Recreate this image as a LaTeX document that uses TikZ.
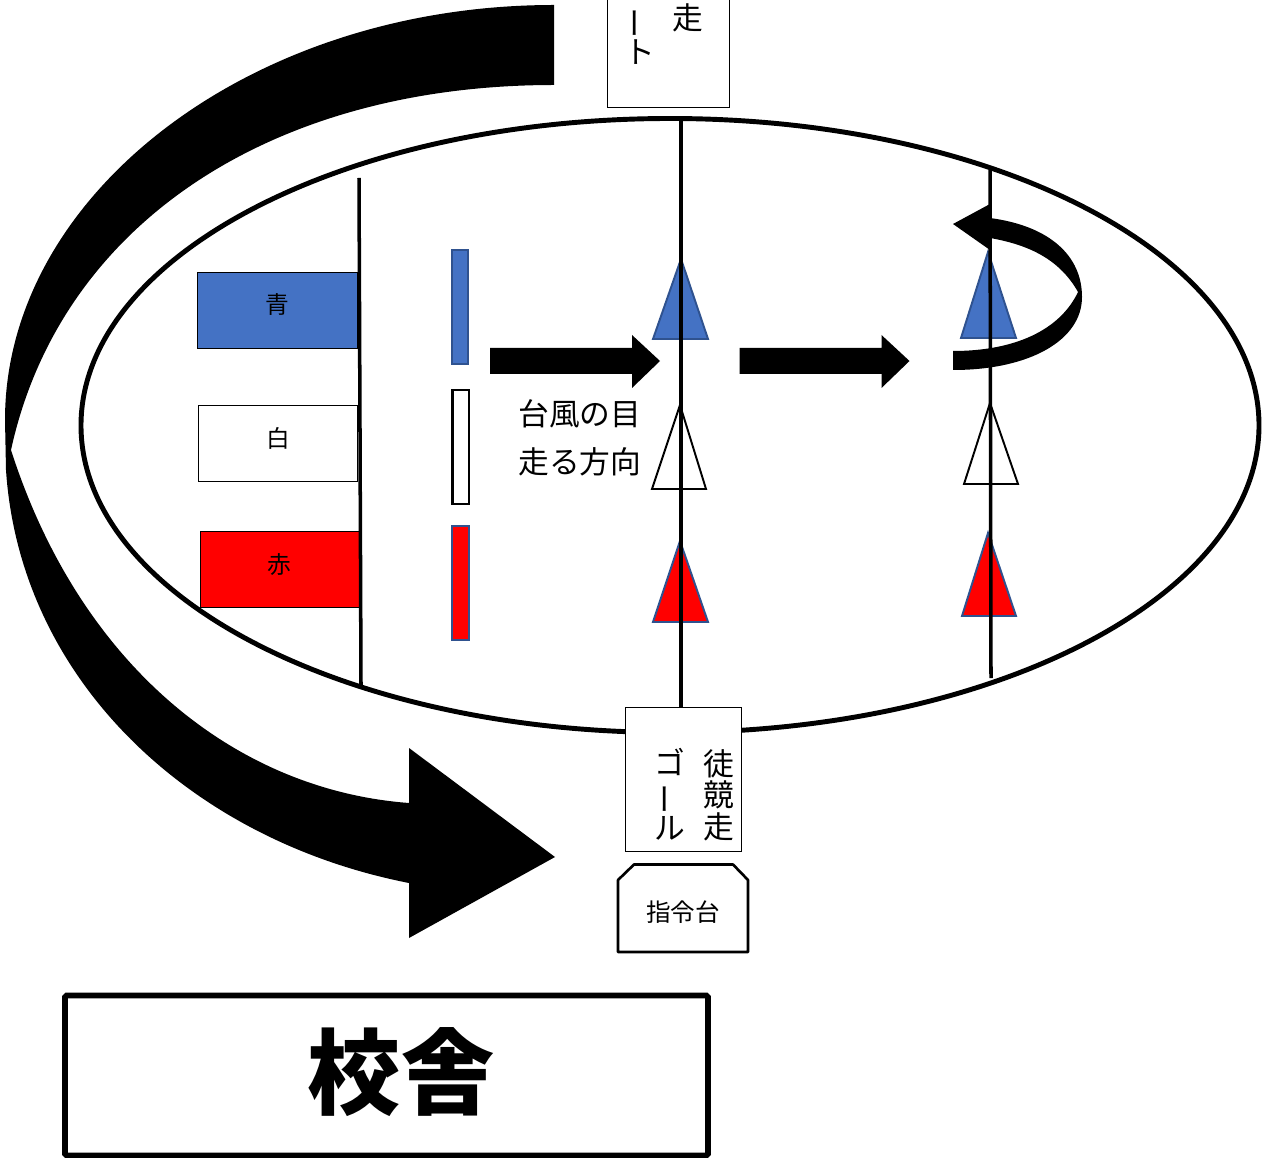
\documentclass[tikz,border=0pt]{standalone}
\usepackage{fontspec}
\newfontfamily\cjk{Noto Sans CJK JP}
\newfontfamily\cjkblack{Noto Sans CJK JP Black}
\usetikzlibrary{calc}
\definecolor{teamblue}{HTML}{4472C4}
\definecolor{edgeblue}{HTML}{2F528F}
\newcommand{\tatebar}{\rotatebox[origin=c]{90}{ー}}
\tikzset{
	thinbox/.style={draw=black,line width=0.55pt,fill=white,inner sep=0pt},
	teambox/.style={thinbox,minimum width=160*0.02cm,minimum height=76*0.02cm,font=\cjk\fontsize{13.5}{15}\selectfont},
	barbox/.style={line width=1.2pt},
	runbox/.style={thinbox,font=\cjk\fontsize{17}{18}\selectfont},
	coltext/.style={align=center,inner sep=0pt,font=\cjk\fontsize{17.5}{18}\selectfont},
	trackline/.style={line width=2pt},
	cone/.style={line width=1.1pt,draw=edgeblue,line join=miter},
}
\begin{document}
\begin{tikzpicture}[x=0.02cm,y=-0.02cm]
		\useasboundingbox (0,0) rectangle (1267,1158);
		
		\draw[line width=2.8pt] (670,425.5) ellipse (589 and 307);
		
		\coordinate (lineAtop) at (359,178);
		\coordinate (lineAend) at (361,685);
		\coordinate (lineBtop) at (681,120);
		\coordinate (lineCtop) at (990,170);
		\coordinate (lineCend) at (991,678);
		
		\fill (554,5) .. controls (250,5) and (5,195) .. (5,420) -- (6,470) .. controls (20,680) and (190,840) .. (409,883) -- (409,938) -- (555,857) -- (409,748) -- (409,803) .. controls (235,790) and (80,665) .. (11,450) .. controls (60,225) and (270,85) .. (554,85) -- cycle;
		
		\node[teambox,fill=teamblue] (blueteam) at (277.5,310) {\raisebox{6.8pt}{青}};
		\node[teambox,minimum width=159*0.02cm] (whiteteam) at (278,443) {\raisebox{6.8pt}{白}};
		\node[teambox,fill=red,minimum width=159*0.02cm] (redteam) at (279.5,569.5) {\raisebox{6.8pt}{赤}};
		
		\draw[trackline] (lineAtop) -- (lineAend);
		
		\draw[barbox,draw=edgeblue,fill=teamblue] (452,250) rectangle (468,364);
		\draw[barbox,line width=1.5pt,fill=white] (452.5,390) rectangle (469,504);
		\draw[barbox,draw=edgeblue,fill=red] (452,526) rectangle (469,640);
		
		\foreach \x in {0,249.5}{
			\fill ($(490,348)+(\x,0)$) -- ++(142,0) -- ++(0,-13) -- ++(28,26) -- ++(-28,27) -- ++(0,-14) -- ++(-142,0) -- cycle;
		}
		
		\node[coltext,anchor=west] (eyetext) at (518,414) {台風の目};
		\node[coltext,anchor=west] (runtext) at (518,462) {走る方向};
		
		\node[thinbox,minimum width=122*0.02cm,minimum height=117*0.02cm] (startbox) at (668,48.5) {};
		\node[coltext] (startrun) at (688,18) {走};
		\node[coltext] (startkana) at (640,36) {\tatebar\\ト};
		
		\node[runbox,minimum width=116*0.02cm,minimum height=144*0.02cm] (goalbox) at (683,779) {};
		\node[coltext] (goalrun) at (719,795) {徒\\競\\走};
		\node[coltext] (goalkana) at (670,794) {ゴ\\\tatebar\\ル};
		
		\draw[cone,fill=teamblue] (653,339) -- (681,259) -- (708,339) -- cycle;
		\draw[cone,draw=black,fill=white] (652,489) -- (680,405) -- (706,489) -- cycle;
		\draw[cone,fill=red] (653,622) -- (680,541) -- (708,622) -- cycle;
		\draw[cone,fill=teamblue] (961,338) -- (988,252) -- (1016,338) -- cycle;
		\draw[cone,draw=black,fill=white] (964,484) -- (990,403) -- (1018,484) -- cycle;
		\draw[cone,fill=red] (962,616) -- (988,533) -- (1016,616) -- cycle;
		
		\draw[trackline] (lineBtop) -- (lineBtop |- goalbox.north);
		\draw[trackline] (lineCtop) -- (lineCend);
		
		\fill (953,224) -- (990,204) -- (990,218) .. controls (1050,226) and (1082,256) .. (1082,297) .. controls (1082,340) and (1030,370) .. (953,370) -- (953,351) .. controls (1015,351) and (1060,330) .. (1078,292) .. controls (1060,260) and (1030,245) .. (990,238) -- (990,250) -- cycle;
		
		\draw[line width=1.5pt,line join=round] (618,880) -- (634,864.5) -- (733,864.5) -- (748,880) -- (748,952) -- (618,952) -- cycle;
		\node[coltext,font=\cjk\fontsize{14}{15}\selectfont] (commandtext) at (683,912) {指令台};
		
		\node[draw,line width=3.4pt,rounded corners=1pt,minimum width=643*0.02cm,minimum height=160*0.02cm,inner sep=0pt] (schoolbox) at (386.5,1075.5) {};
		\node[inner sep=0pt,font=\cjkblack\fontsize{53}{55}\selectfont] (schooltext) at (401,1072) {校舎};
		
	\end{tikzpicture}
\end{document}
